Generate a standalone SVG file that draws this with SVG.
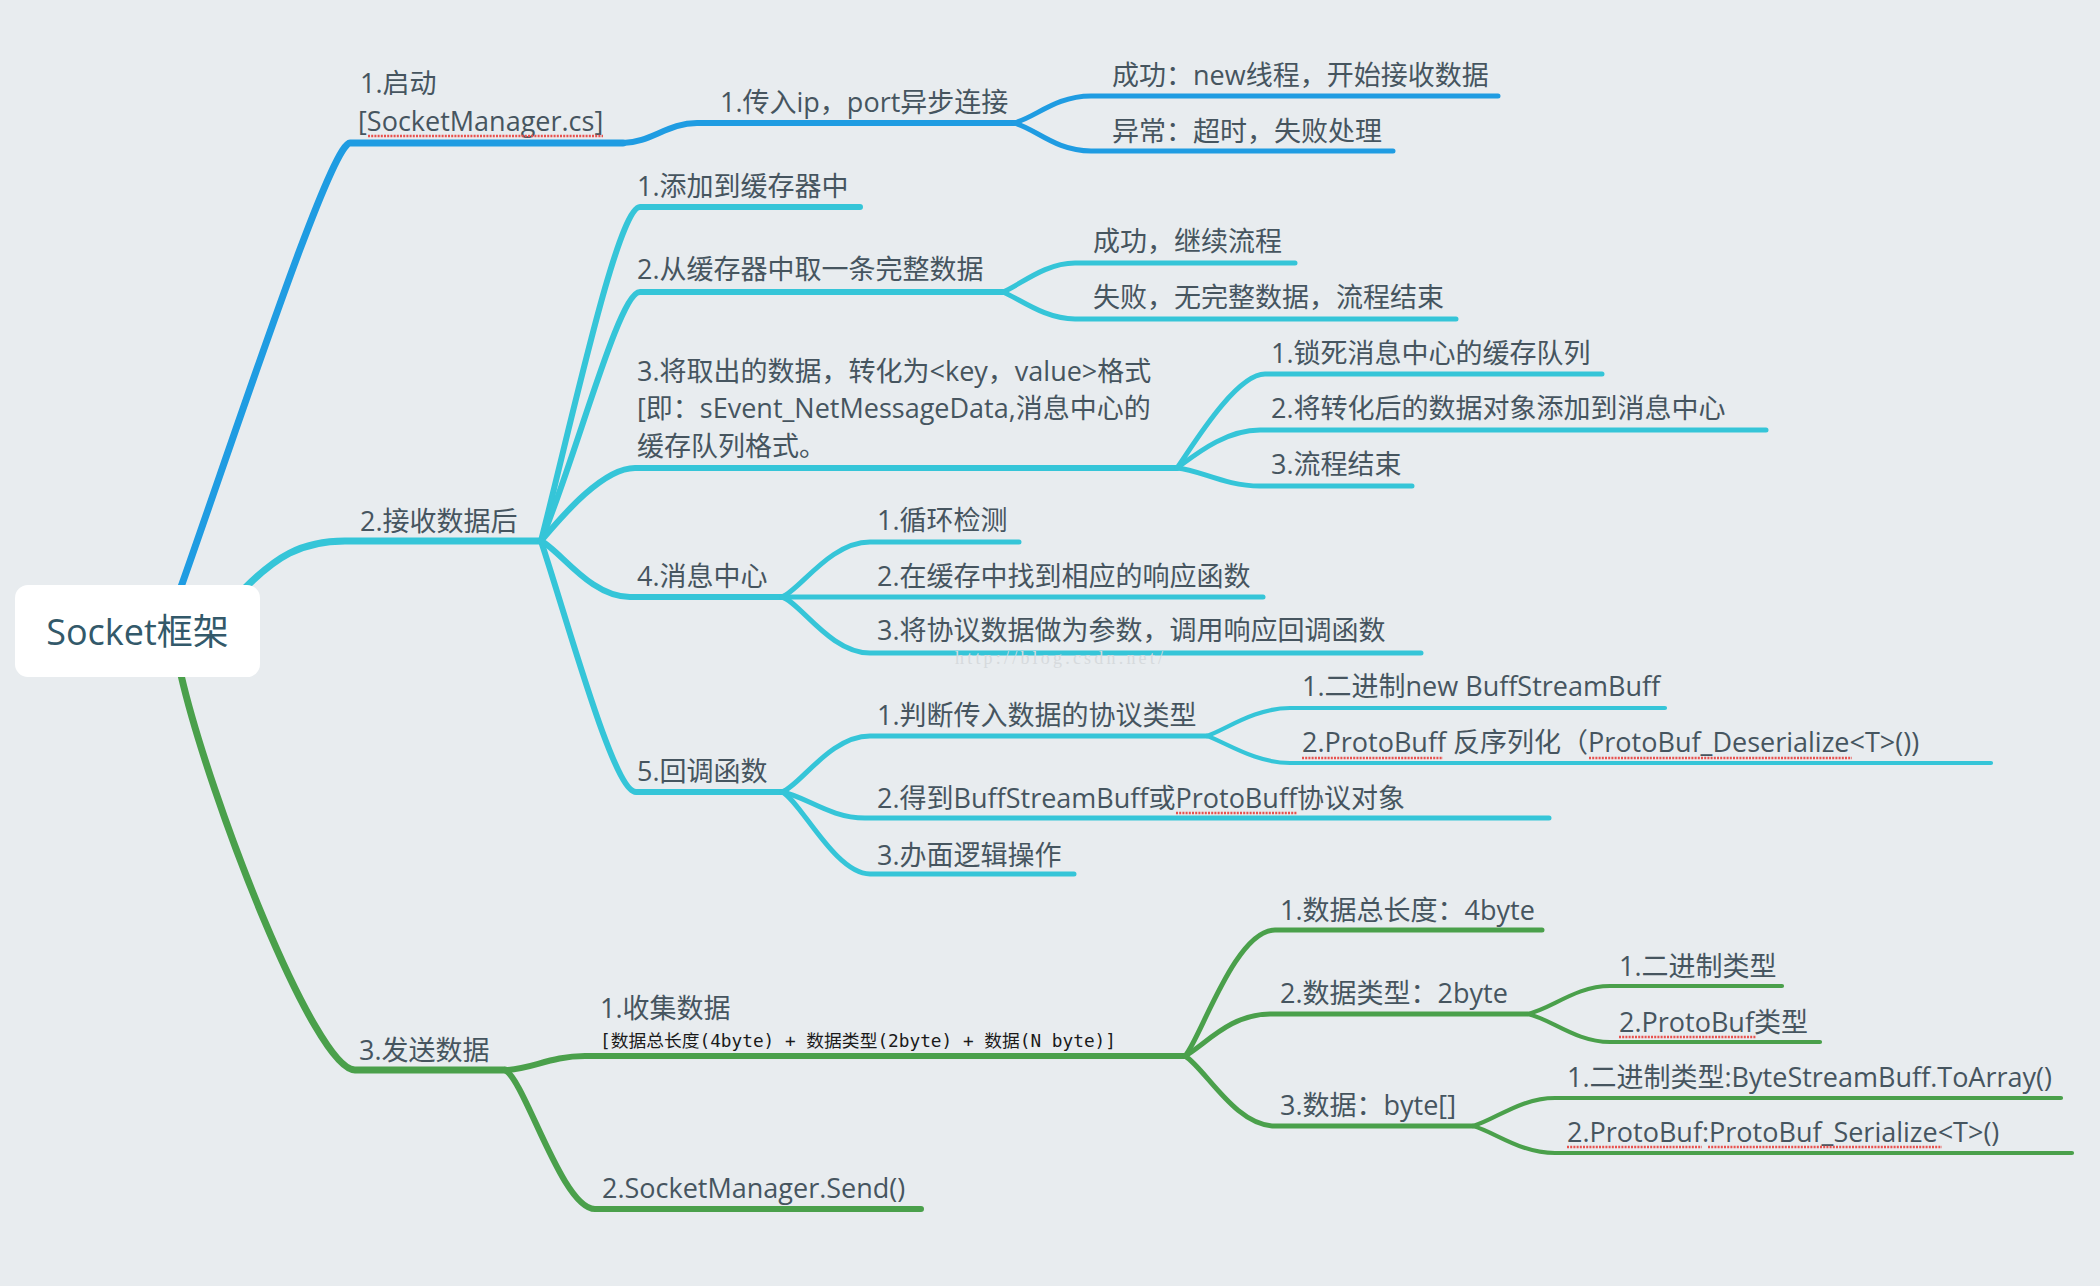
<svg xmlns="http://www.w3.org/2000/svg" width="2100" height="1286" viewBox="0 0 2100 1286">
<style>
.bg{fill:#e8ecef}
.c{fill:none;stroke-linecap:round;stroke-linejoin:round}
.blue{stroke:#1f9ce2}
.cyan{stroke:#35c5d8}
.green{stroke:#4aa04b}
.w1{stroke-width:7}
.w2{stroke-width:6}
.w3{stroke-width:5}
.w4{stroke-width:4.2}
.t{font-family:"Open Sans","Noto Sans CJK SC",sans-serif;font-size:27px;fill:#46555f}
.root{font-family:"Open Sans","Noto Sans CJK SC",sans-serif;font-size:36px;fill:#33596a}
.mono{font-family:"DejaVu Sans Mono","Noto Sans CJK SC",monospace;font-size:17.5px;fill:#1a1a1a}
.spell{fill:none;stroke:#e8514e;stroke-width:2.6;stroke-dasharray:2 1.2}
.wm{font-family:"Liberation Serif",serif;font-size:18px;fill:#d6dadd}
</style>
<rect class="bg" x="0" y="0" width="2100" height="1286"/>

<g id="connectors">
  <path class="c blue w1" d="M181,587 C240,420 331,143 350,143 L623,143"/>
  <path class="c blue w2" d="M623,143 C650,143 668,123 697,123 L1014,123"/>
  <path class="c blue w3" d="M1014,123 C1035,118 1055,96 1091,96 L1498,96"/>
  <path class="c blue w3" d="M1014,123 C1035,128 1055,151 1091,151 L1393,151"/>

  <path class="c cyan w1" d="M245,588 C275,558 300,541 345,541 L541,541"/>
  <path class="c cyan w2" d="M541,541 C572,420 618,207 640,207 L860,207"/>
  <path class="c cyan w2" d="M541,541 C577,454 619,292 640,292 L1003,292"/>
  <path class="c cyan w2" d="M541,541 C555,525 600,468 635,468 L1177,468"/>
  <path class="c cyan w2" d="M541,541 C560,550 590,597 630,597 L782,597"/>
  <path class="c cyan w2" d="M541,541 C570,629 614,792 636,792 L782,792"/>
  <path class="c cyan w3" d="M1003,292 C1020,285 1045,263 1075,263 L1295,263"/>
  <path class="c cyan w3" d="M1003,292 C1020,299 1045,319 1075,319 L1456,319"/>
  <path class="c cyan w3" d="M1177,468 C1190,450 1235,374 1265,374 L1602,374"/>
  <path class="c cyan w3" d="M1177,468 C1195,455 1225,430 1260,430 L1766,430"/>
  <path class="c cyan w3" d="M1177,468 C1200,470 1225,486 1260,486 L1412,486"/>
  <path class="c cyan w3" d="M782,597 C800,590 830,542 870,542 L1019,542"/>
  <path class="c cyan w3" d="M782,597 L1263,597"/>
  <path class="c cyan w3" d="M782,597 C800,602 830,653 870,653 L1421,653"/>
  <path class="c cyan w3" d="M782,792 C800,786 830,736 870,736 L1207,736"/>
  <path class="c cyan w3" d="M782,792 C805,796 830,818 865,818 L1549,818"/>
  <path class="c cyan w3" d="M782,792 C800,800 835,874 870,874 L1074,874"/>
  <path class="c cyan w4" d="M1207,736 C1225,730 1255,708 1290,708 L1665,708"/>
  <path class="c cyan w4" d="M1207,736 C1225,742 1255,763 1290,763 L1991,763"/>

  <path class="c green w1" d="M181,675 C210,800 315,1070 355,1070 L505,1070"/>
  <path class="c green w2" d="M505,1070 C530,1070 550,1056 585,1056 L1185,1056"/>
  <path class="c green w2" d="M505,1070 C525,1080 562,1209 595,1209 L921,1209"/>
  <path class="c green w3" d="M1185,1056 C1200,1040 1235,930 1275,930 L1542,930"/>
  <path class="c green w3" d="M1185,1056 C1205,1045 1230,1014 1270,1014 L1527,1014"/>
  <path class="c green w3" d="M1185,1056 C1205,1068 1235,1126 1275,1126 L1473,1126"/>
  <path class="c green w4" d="M1527,1014 C1550,1010 1575,986 1610,986 L1782,986"/>
  <path class="c green w4" d="M1527,1014 C1550,1018 1575,1042 1610,1042 L1820,1042"/>
  <path class="c green w4" d="M1473,1126 C1495,1120 1520,1098 1555,1098 L2061,1098"/>
  <path class="c green w4" d="M1473,1126 C1495,1132 1520,1153 1555,1153 L2072,1153"/>
</g>

<g id="root">
  <rect x="15" y="585" width="245" height="92" rx="13" fill="#ffffff"/>
  <text class="root" x="137.5" y="645" text-anchor="middle">Socket框架</text>
</g>

<g id="n1">
  <text class="t" x="360" y="93">1.启动</text>
  <text class="t" x="358" y="131">[SocketManager.cs]</text>
</g>
<g id="n1-1"><text class="t" x="720" y="112">1.传入ip，port异步连接</text></g>
<g id="n1-1-1"><text class="t" x="1112" y="85">成功：new线程，开始接收数据</text></g>
<g id="n1-1-2"><text class="t" x="1112" y="141">异常：超时，失败处理</text></g>

<g id="n2"><text class="t" x="360" y="531">2.接收数据后</text></g>
<g id="n2-1"><text class="t" x="637" y="196">1.添加到缓存器中</text></g>
<g id="n2-2"><text class="t" x="637" y="279">2.从缓存器中取一条完整数据</text></g>
<g id="n2-2-1"><text class="t" x="1093" y="251">成功，继续流程</text></g>
<g id="n2-2-2"><text class="t" x="1093" y="307">失败，无完整数据，流程结束</text></g>
<g id="n2-3">
  <text class="t" x="637" y="381">3.将取出的数据，转化为&lt;key，value&gt;格式</text>
  <text class="t" x="637" y="418">[即：sEvent_NetMessageData,消息中心的</text>
  <text class="t" x="637" y="456">缓存队列格式。</text>
</g>
<g id="n2-3-1"><text class="t" x="1271" y="363">1.锁死消息中心的缓存队列</text></g>
<g id="n2-3-2"><text class="t" x="1271" y="418">2.将转化后的数据对象添加到消息中心</text></g>
<g id="n2-3-3"><text class="t" x="1271" y="474">3.流程结束</text></g>
<g id="n2-4"><text class="t" x="637" y="586">4.消息中心</text></g>
<g id="n2-4-1"><text class="t" x="877" y="530">1.循环检测</text></g>
<g id="n2-4-2"><text class="t" x="877" y="586">2.在缓存中找到相应的响应函数</text></g>
<g id="n2-4-3"><text class="t" x="877" y="640">3.将协议数据做为参数，调用响应回调函数</text></g>
<g id="n2-5"><text class="t" x="637" y="781">5.回调函数</text></g>
<g id="n2-5-1"><text class="t" x="877" y="725">1.判断传入数据的协议类型</text></g>
<g id="n2-5-1-1"><text class="t" x="1302" y="696">1.二进制new BuffStreamBuff</text></g>
<g id="n2-5-1-2"><text class="t" x="1302" y="752">2.ProtoBuff 反序列化（ProtoBuf_Deserialize&lt;T&gt;())</text></g>
<g id="n2-5-2"><text class="t" x="877" y="808">2.得到BuffStreamBuff或ProtoBuff协议对象</text></g>
<g id="n2-5-3"><text class="t" x="877" y="865">3.办面逻辑操作</text></g>

<g id="n3"><text class="t" x="359" y="1060">3.发送数据</text></g>
<g id="n3-1">
  <text class="t" x="600" y="1018">1.收集数据</text>
  <text class="mono" x="600" y="1047" textLength="516" lengthAdjust="spacingAndGlyphs">[数据总长度(4byte) + 数据类型(2byte) + 数据(N byte)]</text>
</g>
<g id="n3-1-1"><text class="t" x="1280" y="920">1.数据总长度：4byte</text></g>
<g id="n3-1-2"><text class="t" x="1280" y="1003">2.数据类型：2byte</text></g>
<g id="n3-1-2-1"><text class="t" x="1619" y="976">1.二进制类型</text></g>
<g id="n3-1-2-2"><text class="t" x="1619" y="1032">2.ProtoBuf类型</text></g>
<g id="n3-1-3"><text class="t" x="1280" y="1115">3.数据：byte[]</text></g>
<g id="n3-1-3-1"><text class="t" x="1567" y="1087">1.二进制类型:ByteStreamBuff.ToArray()</text></g>
<g id="n3-1-3-2"><text class="t" x="1567" y="1142">2.ProtoBuf:ProtoBuf_Serialize&lt;T&gt;()</text></g>
<g id="n3-2"><text class="t" x="602" y="1198">2.SocketManager.Send()</text></g>

<g id="spellcheck">
  <path class="spell" d="M368,136 L603,136"/>
  <path class="spell" d="M1302,758 L1443,758"/>
  <path class="spell" d="M1589,758 L1852,758"/>
  <path class="spell" d="M1176,813 L1297,813"/>
  <path class="spell" d="M1619,1037 L1756,1037"/>
  <path class="spell" d="M1567,1147 L1702,1147"/>
  <path class="spell" d="M1708,1147 L1942,1147"/>
</g>

<text class="wm" x="955" y="664" textLength="208" lengthAdjust="spacing">http://blog.csdn.net/</text>
</svg>
